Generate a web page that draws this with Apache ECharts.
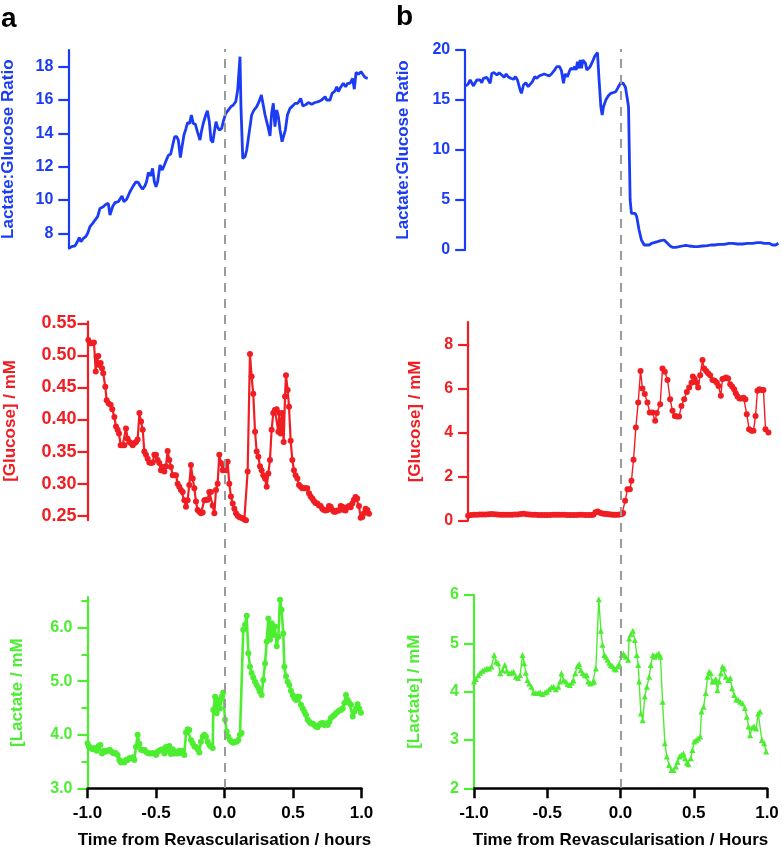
<!DOCTYPE html>
<html>
<head>
<meta charset="utf-8">
<script src="https://cdn.jsdelivr.net/npm/echarts@6/dist/echarts.min.js"></script>
<style>
  html, body { margin: 0; padding: 0; background: #fff; }
  #chart { width: 782px; height: 847px; }
</style>
</head>
<body>
<div id="chart"></div>
<script>
// time (hours from revascularisation), value
const ratioA = [[-1.14,7.1],[-1.116,7.2],[-1.091,7.25],[-1.074,7.5],[-1.06,7.75],[-1.048,7.5],[-1.03,7.7],[-1.013,7.8],[-0.999,8.0],[-0.982,8.4],[-0.962,8.6],[-0.945,8.8],[-0.926,9.0],[-0.909,9.5],[-0.885,9.6],[-0.865,9.75],[-0.848,9.8],[-0.836,9.1],[-0.817,9.6],[-0.799,9.85],[-0.775,9.9],[-0.763,9.8],[-0.748,10.25],[-0.734,9.9],[-0.714,10.05],[-0.69,10.5],[-0.666,10.85],[-0.646,11.1],[-0.629,11.05],[-0.612,10.8],[-0.598,10.65],[-0.581,10.85],[-0.569,11.1],[-0.556,11.65],[-0.539,11.45],[-0.525,11.9],[-0.512,11.1],[-0.5,10.8],[-0.488,11.1],[-0.471,12.1],[-0.454,11.8],[-0.439,12.1],[-0.422,12.45],[-0.408,12.7],[-0.393,12.75],[-0.378,13.3],[-0.364,13.8],[-0.349,13.8],[-0.337,13.6],[-0.322,12.55],[-0.31,13.2],[-0.296,13.9],[-0.281,14.3],[-0.269,14.65],[-0.254,14.6],[-0.242,15.1],[-0.228,14.6],[-0.213,14.55],[-0.198,14.1],[-0.179,13.6],[-0.169,14.1],[-0.155,14.6],[-0.137,15.1],[-0.125,15.35],[-0.111,14.7],[-0.099,13.6],[-0.086,13.45],[-0.074,14.1],[-0.062,14.7],[-0.052,14.4],[-0.038,14.2],[-0.021,14.3],[-0.009,14.7],[0.009,15.2],[0.028,15.4],[0.047,15.6],[0.064,15.7],[0.082,15.9],[0.096,16.6],[0.108,18.0],[0.113,18.6],[0.12,15.6],[0.133,12.5],[0.15,12.6],[0.162,13.0],[0.179,14.0],[0.198,15.1],[0.215,15.4],[0.235,15.6],[0.252,15.9],[0.269,16.3],[0.281,16.3],[0.296,15.1],[0.308,15.1],[0.32,14.3],[0.332,13.85],[0.344,15.2],[0.356,15.8],[0.368,14.4],[0.381,15.4],[0.393,15.0],[0.405,14.2],[0.42,13.5],[0.429,13.4],[0.444,14.2],[0.459,15.1],[0.478,15.5],[0.498,15.65],[0.515,15.8],[0.534,15.8],[0.546,15.9],[0.556,16.1],[0.571,15.65],[0.588,15.7],[0.612,15.85],[0.636,15.75],[0.661,15.85],[0.685,15.9],[0.709,16.0],[0.734,16.2],[0.746,16.0],[0.758,15.9],[0.77,16.0],[0.785,16.4],[0.807,16.55],[0.819,16.8],[0.831,16.5],[0.843,16.7],[0.867,17.0],[0.884,16.8],[0.899,17.0],[0.916,17.0],[0.935,17.3],[0.947,16.65],[0.96,17.65],[0.977,17.55],[0.996,17.7],[1.013,17.5],[1.026,17.35],[1.045,17.3]];

const glucoseA = [[-0.994,0.524],[-0.982,0.519],[-0.970,0.519],[-0.953,0.520],[-0.940,0.475],[-0.933,0.498],[-0.921,0.499],[-0.914,0.485],[-0.904,0.488],[-0.894,0.480],[-0.885,0.472],[-0.870,0.451],[-0.860,0.430],[-0.846,0.425],[-0.831,0.423],[-0.819,0.416],[-0.804,0.404],[-0.792,0.389],[-0.780,0.384],[-0.770,0.378],[-0.758,0.360],[-0.743,0.360],[-0.731,0.360],[-0.719,0.386],[-0.707,0.370],[-0.695,0.365],[-0.682,0.363],[-0.670,0.360],[-0.658,0.363],[-0.646,0.365],[-0.634,0.369],[-0.621,0.410],[-0.609,0.397],[-0.597,0.384],[-0.585,0.350],[-0.573,0.345],[-0.561,0.339],[-0.549,0.333],[-0.536,0.332],[-0.524,0.333],[-0.512,0.345],[-0.500,0.345],[-0.488,0.337],[-0.476,0.332],[-0.464,0.321],[-0.451,0.326],[-0.439,0.319],[-0.427,0.327],[-0.415,0.351],[-0.403,0.337],[-0.391,0.326],[-0.378,0.313],[-0.366,0.313],[-0.354,0.313],[-0.342,0.300],[-0.330,0.295],[-0.318,0.290],[-0.305,0.287],[-0.293,0.274],[-0.281,0.264],[-0.269,0.274],[-0.257,0.298],[-0.245,0.329],[-0.232,0.308],[-0.220,0.293],[-0.208,0.272],[-0.196,0.259],[-0.184,0.256],[-0.172,0.254],[-0.159,0.255],[-0.147,0.274],[-0.135,0.275],[-0.123,0.275],[-0.111,0.287],[-0.099,0.287],[-0.086,0.266],[-0.074,0.254],[-0.062,0.290],[-0.050,0.300],[-0.038,0.345],[-0.026,0.332],[-0.013,0.321],[-0.001,0.326],[0.011,0.321],[0.023,0.334],[0.035,0.300],[0.047,0.280],[0.060,0.269],[0.072,0.261],[0.084,0.254],[0.096,0.250],[0.108,0.248],[0.120,0.247],[0.133,0.246],[0.145,0.244],[0.157,0.243],[0.169,0.319],[0.186,0.502],[0.198,0.467],[0.210,0.440],[0.223,0.381],[0.235,0.350],[0.247,0.342],[0.259,0.327],[0.271,0.321],[0.283,0.313],[0.296,0.308],[0.308,0.295],[0.320,0.316],[0.332,0.337],[0.344,0.384],[0.356,0.410],[0.368,0.415],[0.381,0.416],[0.393,0.381],[0.400,0.410],[0.410,0.378],[0.422,0.410],[0.432,0.365],[0.442,0.436],[0.449,0.469],[0.461,0.446],[0.471,0.420],[0.483,0.367],[0.495,0.337],[0.507,0.321],[0.519,0.313],[0.532,0.308],[0.544,0.298],[0.556,0.295],[0.568,0.293],[0.580,0.293],[0.592,0.293],[0.604,0.293],[0.617,0.285],[0.629,0.280],[0.641,0.277],[0.653,0.273],[0.665,0.270],[0.678,0.269],[0.690,0.266],[0.702,0.265],[0.714,0.261],[0.726,0.259],[0.738,0.258],[0.751,0.259],[0.763,0.265],[0.775,0.264],[0.787,0.259],[0.799,0.256],[0.811,0.256],[0.823,0.258],[0.836,0.258],[0.848,0.265],[0.860,0.264],[0.872,0.259],[0.884,0.258],[0.896,0.263],[0.908,0.265],[0.921,0.263],[0.933,0.269],[0.945,0.275],[0.957,0.279],[0.969,0.277],[0.982,0.265],[0.994,0.247],[1.006,0.248],[1.018,0.254],[1.030,0.261],[1.043,0.259],[1.055,0.253]];

const lactateA = [[-1.0,3.84],[-0.989,3.78],[-0.977,3.75],[-0.962,3.73],[-0.948,3.75],[-0.933,3.70],[-0.919,3.79],[-0.906,3.81],[-0.894,3.65],[-0.882,3.70],[-0.868,3.68],[-0.853,3.70],[-0.838,3.72],[-0.824,3.68],[-0.809,3.65],[-0.795,3.66],[-0.780,3.62],[-0.768,3.53],[-0.756,3.48],[-0.743,3.50],[-0.731,3.48],[-0.719,3.53],[-0.707,3.53],[-0.695,3.56],[-0.682,3.56],[-0.670,3.58],[-0.658,3.53],[-0.646,3.77],[-0.634,4.00],[-0.621,3.83],[-0.609,3.72],[-0.597,3.71],[-0.585,3.72],[-0.573,3.68],[-0.561,3.66],[-0.549,3.65],[-0.536,3.65],[-0.524,3.66],[-0.512,3.65],[-0.500,3.62],[-0.488,3.68],[-0.476,3.70],[-0.464,3.72],[-0.451,3.73],[-0.439,3.65],[-0.427,3.77],[-0.415,3.70],[-0.403,3.79],[-0.391,3.64],[-0.378,3.73],[-0.366,3.65],[-0.354,3.68],[-0.342,3.65],[-0.330,3.70],[-0.318,3.66],[-0.305,3.70],[-0.293,3.62],[-0.281,4.04],[-0.269,4.10],[-0.257,4.09],[-0.245,3.90],[-0.232,3.84],[-0.220,3.78],[-0.208,3.77],[-0.196,3.73],[-0.184,3.67],[-0.172,3.87],[-0.159,3.96],[-0.147,4.00],[-0.135,3.96],[-0.123,3.87],[-0.111,3.81],[-0.099,3.78],[-0.086,3.75],[-0.082,4.46],[-0.069,4.71],[-0.057,4.40],[-0.045,4.65],[-0.033,4.49],[-0.021,4.71],[-0.009,4.79],[0.004,4.28],[0.016,4.06],[0.028,3.96],[0.040,3.90],[0.052,3.87],[0.064,3.85],[0.077,3.87],[0.089,3.87],[0.101,3.90],[0.113,4.00],[0.125,4.03],[0.137,5.96],[0.150,6.05],[0.162,6.22],[0.174,5.52],[0.186,5.27],[0.198,5.15],[0.210,5.07],[0.223,4.99],[0.235,4.93],[0.247,4.87],[0.259,4.80],[0.271,4.74],[0.283,5.02],[0.296,5.33],[0.308,5.74],[0.320,6.17],[0.332,5.77],[0.344,6.08],[0.356,5.86],[0.368,6.02],[0.381,5.65],[0.393,5.83],[0.405,6.52],[0.417,6.33],[0.429,5.89],[0.437,5.27],[0.449,5.09],[0.461,4.99],[0.473,4.93],[0.485,4.82],[0.498,4.74],[0.510,4.68],[0.522,4.65],[0.534,4.71],[0.546,4.71],[0.558,4.56],[0.571,4.49],[0.583,4.43],[0.595,4.37],[0.607,4.28],[0.619,4.24],[0.631,4.21],[0.644,4.21],[0.656,4.18],[0.668,4.15],[0.680,4.14],[0.692,4.18],[0.704,4.21],[0.717,4.22],[0.729,4.18],[0.741,4.21],[0.753,4.18],[0.765,4.24],[0.777,4.31],[0.790,4.34],[0.802,4.37],[0.814,4.40],[0.826,4.43],[0.838,4.45],[0.850,4.46],[0.863,4.49],[0.875,4.59],[0.887,4.74],[0.899,4.65],[0.911,4.59],[0.923,4.56],[0.936,4.34],[0.948,4.43],[0.960,4.49],[0.972,4.57],[0.984,4.49],[0.996,4.41]];

const ratioB = [[-1.056,16.4],[-1.040,16.6],[-1.026,17.0],[-1.015,16.85],[-1.003,16.4],[-0.992,16.73],[-0.981,17.0],[-0.969,16.83],[-0.958,17.0],[-0.947,16.73],[-0.935,17.17],[-0.924,17.17],[-0.912,17.27],[-0.901,17.07],[-0.890,16.67],[-0.878,17.67],[-0.862,17.73],[-0.844,17.5],[-0.828,17.73],[-0.810,17.5],[-0.794,17.27],[-0.780,17.6],[-0.767,17.33],[-0.749,17.17],[-0.730,17.07],[-0.717,17.33],[-0.703,17.0],[-0.685,16.0],[-0.676,15.67],[-0.662,16.5],[-0.646,16.73],[-0.630,16.33],[-0.617,16.27],[-0.601,16.83],[-0.585,17.33],[-0.571,17.17],[-0.555,17.4],[-0.539,17.5],[-0.521,17.6],[-0.503,17.5],[-0.487,17.4],[-0.471,17.6],[-0.453,17.93],[-0.435,18.33],[-0.416,18.33],[-0.403,17.93],[-0.389,16.67],[-0.378,17.6],[-0.362,17.33],[-0.350,17.83],[-0.339,18.17],[-0.325,18.07],[-0.312,18.33],[-0.303,18.0],[-0.294,18.83],[-0.282,18.17],[-0.275,19.0],[-0.266,18.17],[-0.257,19.0],[-0.248,19.07],[-0.239,18.67],[-0.230,18.0],[-0.221,18.0],[-0.207,18.33],[-0.191,18.83],[-0.175,19.4],[-0.157,19.73],[-0.146,17.0],[-0.134,14.33],[-0.125,13.5],[-0.116,14.33],[-0.100,15.0],[-0.084,15.4],[-0.066,15.67],[-0.050,15.73],[-0.032,15.83],[-0.016,16.27],[0.002,16.73],[0.018,16.67],[0.034,16.27],[0.048,15.0],[0.055,14.33],[0.066,5.0],[0.075,3.67],[0.100,3.67],[0.111,3.33],[0.127,2.0],[0.143,1.0],[0.162,0.5],[0.180,0.5],[0.196,0.5],[0.212,0.67],[0.230,0.73],[0.253,0.83],[0.275,0.93],[0.298,1.0],[0.309,1.07],[0.321,0.67],[0.339,0.4],[0.355,0.27],[0.378,0.27],[0.400,0.33],[0.423,0.4],[0.446,0.47],[0.469,0.4],[0.503,0.33],[0.526,0.33],[0.560,0.4],[0.594,0.43],[0.617,0.5],[0.639,0.5],[0.673,0.57],[0.708,0.57],[0.742,0.67],[0.765,0.67],[0.799,0.6],[0.833,0.6],[0.867,0.67],[0.901,0.67],[0.935,0.73],[0.958,0.73],[0.981,0.67],[1.015,0.67],[1.038,0.5],[1.060,0.5],[1.078,0.67]];

const glucoseB = [[-1.040,0.22],[-1.020,0.26],[-1.000,0.27],[-0.980,0.27],[-0.960,0.28],[-0.940,0.28],[-0.920,0.28],[-0.900,0.29],[-0.880,0.30],[-0.860,0.29],[-0.840,0.28],[-0.820,0.27],[-0.800,0.27],[-0.780,0.27],[-0.760,0.27],[-0.740,0.27],[-0.720,0.28],[-0.700,0.28],[-0.680,0.30],[-0.660,0.31],[-0.640,0.29],[-0.620,0.28],[-0.600,0.27],[-0.580,0.27],[-0.560,0.26],[-0.540,0.26],[-0.520,0.26],[-0.500,0.26],[-0.480,0.26],[-0.460,0.27],[-0.440,0.27],[-0.420,0.27],[-0.400,0.27],[-0.380,0.27],[-0.360,0.26],[-0.340,0.26],[-0.320,0.26],[-0.300,0.26],[-0.280,0.27],[-0.260,0.27],[-0.240,0.26],[-0.220,0.26],[-0.200,0.26],[-0.185,0.27],[-0.170,0.38],[-0.155,0.42],[-0.140,0.36],[-0.125,0.33],[-0.110,0.31],[-0.095,0.30],[-0.080,0.29],[-0.065,0.28],[-0.050,0.27],[-0.035,0.27],[-0.020,0.27],[-0.005,0.28],[0.010,0.30],[0.018,0.35],[0.032,0.9],[0.048,1.43],[0.064,1.43],[0.075,1.81],[0.089,2.76],[0.105,4.23],[0.121,5.36],[0.137,6.79],[0.150,5.99],[0.166,5.74],[0.184,5.36],[0.200,4.91],[0.218,4.91],[0.237,4.53],[0.248,4.88],[0.271,5.28],[0.287,6.9],[0.303,6.75],[0.321,6.38],[0.339,5.51],[0.355,4.98],[0.371,4.75],[0.385,4.72],[0.400,4.72],[0.416,5.2],[0.435,5.51],[0.453,5.84],[0.469,6.04],[0.485,6.26],[0.494,6.54],[0.507,6.42],[0.521,6.26],[0.530,6.04],[0.544,6.6],[0.560,7.29],[0.571,6.9],[0.585,6.79],[0.598,6.69],[0.612,6.6],[0.628,6.38],[0.644,6.34],[0.658,6.26],[0.669,6.11],[0.685,5.66],[0.696,6.42],[0.708,6.45],[0.721,6.49],[0.735,6.45],[0.749,6.19],[0.762,6.08],[0.776,5.96],[0.787,5.78],[0.799,5.63],[0.812,5.54],[0.826,5.54],[0.840,5.58],[0.853,5.51],[0.862,4.83],[0.878,4.15],[0.894,4.08],[0.908,4.08],[0.922,4.75],[0.935,5.89],[0.949,5.96],[0.962,5.93],[0.976,5.93],[0.990,4.15],[1.010,4.0]];

const lactateB = [[-1.0,4.21],[-0.987,4.26],[-0.972,4.34],[-0.958,4.39],[-0.942,4.43],[-0.926,4.46],[-0.912,4.48],[-0.896,4.48],[-0.881,4.52],[-0.862,4.76],[-0.849,4.62],[-0.835,4.59],[-0.821,4.38],[-0.805,4.45],[-0.790,4.55],[-0.776,4.43],[-0.760,4.38],[-0.744,4.39],[-0.730,4.41],[-0.714,4.31],[-0.699,4.28],[-0.685,4.34],[-0.669,4.76],[-0.658,4.59],[-0.646,4.39],[-0.635,4.24],[-0.623,4.17],[-0.608,4.10],[-0.594,3.98],[-0.578,3.97],[-0.562,3.97],[-0.548,3.98],[-0.532,3.95],[-0.516,3.98],[-0.503,4.00],[-0.487,4.05],[-0.471,4.09],[-0.457,4.10],[-0.441,4.05],[-0.425,4.10],[-0.412,4.21],[-0.403,4.38],[-0.389,4.24],[-0.373,4.21],[-0.362,4.16],[-0.346,4.14],[-0.332,4.19],[-0.321,4.23],[-0.309,4.38],[-0.294,4.53],[-0.282,4.57],[-0.271,4.45],[-0.259,4.38],[-0.243,4.34],[-0.230,4.34],[-0.221,4.21],[-0.207,4.17],[-0.191,4.19],[-0.180,4.21],[-0.168,4.48],[-0.148,5.91],[-0.134,5.26],[-0.123,4.97],[-0.111,4.76],[-0.100,4.72],[-0.089,4.66],[-0.077,4.60],[-0.066,4.55],[-0.055,4.53],[-0.043,4.48],[-0.032,4.46],[-0.020,4.52],[-0.009,4.57],[0.007,4.76],[0.020,4.79],[0.036,4.72],[0.052,4.66],[0.059,5.10],[0.071,5.19],[0.084,5.26],[0.098,5.07],[0.111,4.76],[0.121,4.55],[0.127,4.21],[0.139,3.55],[0.152,3.41],[0.166,3.90],[0.180,4.10],[0.196,4.31],[0.207,4.55],[0.221,4.76],[0.234,4.72],[0.248,4.76],[0.262,4.79],[0.273,4.72],[0.287,3.79],[0.303,2.93],[0.316,2.66],[0.332,2.48],[0.348,2.38],[0.362,2.38],[0.378,2.45],[0.389,2.55],[0.403,2.66],[0.416,2.69],[0.430,2.72],[0.441,2.62],[0.453,2.53],[0.464,2.50],[0.480,2.62],[0.491,2.79],[0.503,2.97],[0.516,3.00],[0.530,3.03],[0.544,3.07],[0.553,3.59],[0.567,3.69],[0.582,3.97],[0.594,4.31],[0.605,4.41],[0.617,4.38],[0.628,4.21],[0.639,4.21],[0.651,4.26],[0.662,4.03],[0.673,4.21],[0.685,4.38],[0.696,4.52],[0.708,4.48],[0.719,4.31],[0.735,4.24],[0.749,4.28],[0.762,4.07],[0.776,3.93],[0.790,3.84],[0.803,3.83],[0.817,3.79],[0.833,3.76],[0.849,3.66],[0.862,3.48],[0.874,3.28],[0.885,3.10],[0.899,3.26],[0.912,3.28],[0.926,3.24],[0.940,3.55],[0.953,3.59],[0.965,3.00],[0.981,2.93],[0.994,2.76]];

const ratioATicks = [8, 10, 12, 14, 16, 18];
const glucoseATicks = [0.25, 0.30, 0.35, 0.40, 0.45, 0.50, 0.55];
const lactateATicks = [3.0, 4.0, 5.0, 6.0];
const lactateAMinorTicks = [3.5, 4.5, 5.5, 6.5];
const glucoseBTicks = [0, 2, 4, 6, 8];

const BLUE = '#1b3cf4';
const RED = '#f01d22';
const GREEN = '#4ded32';
const FONT = '"Liberation Sans", Arial, sans-serif';

const chart = echarts.init(document.getElementById('chart'));

function grid(left, width, top, height) {
  return { left: left, width: width, top: top, height: height, outerBoundsMode: 'none' };
}
function hiddenX(gi, min, max) {
  return { type: 'value', gridIndex: gi, min: min, max: max, show: false };
}
function yAxis(gi, min, max, color, name, gap, opts) {
  return Object.assign({
    type: 'value', gridIndex: gi, min: min, max: max, position: 'left',
    name: name, nameLocation: 'middle', nameGap: gap,
    nameTextStyle: { color: color, fontSize: 17, fontWeight: 'bold', fontFamily: FONT },
    axisLine: { show: true, onZero: false, lineStyle: { color: color, width: 2.2 } },
    axisTick: { show: true, length: 10, lineStyle: { color: color, width: 2.2 } },
    axisLabel: { color: color, fontSize: 16, fontWeight: 'bold', fontFamily: FONT, margin: 15 },
    splitLine: { show: false }
  }, opts || {});
}
function timeAxis(gi, name) {
  return {
    type: 'value', gridIndex: gi, min: -1, max: 1, interval: 0.5,
    name: name, nameLocation: 'middle', nameGap: 44,
    nameTextStyle: { color: '#000', fontSize: 17, fontWeight: 'bold', fontFamily: FONT },
    axisLine: { show: true, onZero: false, lineStyle: { color: '#000', width: 2.5 } },
    axisTick: { show: true, length: 10, lineStyle: { color: '#000', width: 2.5 } },
    axisLabel: { color: '#000', fontSize: 17, fontWeight: 'bold', fontFamily: FONT, margin: 17,
      formatter: v => v.toFixed(1) },
    splitLine: { show: false }
  };
}
function dashed(xi, yi) {
  return {
    type: 'line', xAxisIndex: xi, yAxisIndex: yi, data: [], silent: true,
    markLine: {
      symbol: 'none', silent: true, label: { show: false },
      lineStyle: { color: '#9a9a9a', type: [9, 7], width: 2 },
      data: [{ xAxis: 0 }]
    }
  };
}

chart.setOption({
  animation: false,
  backgroundColor: '#fff',
  title: [
    { text: 'a', left: 1, top: 5, padding: 0, textStyle: { fontSize: 28, fontWeight: 'bold', color: '#000', fontFamily: FONT } },
    { text: 'b', left: 396, top: 3, padding: 0, textStyle: { fontSize: 28, fontWeight: 'bold', color: '#000', fontFamily: FONT } }
  ],
  grid: [
    grid(68.3, 300.1, 50, 198.4),     // 0 ratio a
    grid(87.5, 282.2, 321.7, 198.5),  // 1 glucose a
    grid(87.5, 274, 597, 191.3),      // 2 lactate a
    grid(465.2, 314.2, 50, 200),      // 3 ratio b
    grid(468.1, 301.8, 322.2, 198.5), // 4 glucose b
    grid(474, 293, 595, 193.3),       // 5 lactate b
    grid(87.5, 274, 49, 739),         // 6 dashed a
    grid(474, 293, 49, 739)           // 7 dashed b
  ],
  xAxis: [
    hiddenX(0, -1.14, 1.05),
    hiddenX(1, -1.0, 1.06),
    timeAxis(2, 'Time from Revascularisation / hours'),
    hiddenX(3, -1.06, 1.085),
    hiddenX(4, -1.04, 1.02),
    timeAxis(5, 'Time from Revascularisation / Hours'),
    hiddenX(6, -1, 1),
    hiddenX(7, -1, 1)
  ],
  yAxis: [
    yAxis(0, 7.1, 19, BLUE, 'Lactate:Glucose Ratio', 51, {
      axisLabel: { color: BLUE, fontSize: 16, fontWeight: 'bold', fontFamily: FONT, margin: 15, customValues: ratioATicks },
      axisTick: { show: true, length: 10, lineStyle: { color: BLUE, width: 2.2 }, customValues: ratioATicks }
    }),
    yAxis(1, 0.243, 0.5525, RED, '[Glucose] / mM', 69, {
      axisLabel: { color: RED, fontSize: 18, fontWeight: 'bold', fontFamily: FONT, margin: 11,
        customValues: glucoseATicks, formatter: v => v.toFixed(2) },
      axisTick: { show: true, length: 10, lineStyle: { color: RED, width: 2.2 }, customValues: glucoseATicks }
    }),
    yAxis(2, 3.0, 6.57, GREEN, '[Lactate / mM', 62, {
      axisLabel: { color: GREEN, fontSize: 16, fontWeight: 'bold', fontFamily: FONT, margin: 15,
        customValues: lactateATicks, formatter: v => v.toFixed(1) },
      axisTick: { show: true, length: 10, lineStyle: { color: GREEN, width: 2.2 }, customValues: lactateATicks }
    }),
    yAxis(3, 0, 20, BLUE, 'Lactate:Glucose Ratio', 53, { interval: 5 }),
    yAxis(4, 0, 9, RED, '[Glucose] / mM', 44, {
      axisLabel: { color: RED, fontSize: 16, fontWeight: 'bold', fontFamily: FONT, margin: 15, customValues: glucoseBTicks },
      axisTick: { show: true, length: 10, lineStyle: { color: RED, width: 2.2 }, customValues: glucoseBTicks }
    }),
    yAxis(5, 2, 6, GREEN, '[Lactate] / mM', 51, { interval: 1 }),
    { type: 'value', gridIndex: 6, min: 0, max: 1, show: false },
    { type: 'value', gridIndex: 7, min: 0, max: 1, show: false },
    // minor ticks of lactate a
    {
      type: 'value', gridIndex: 2, min: 3.0, max: 6.57, position: 'left',
      axisLine: { show: false, onZero: false }, axisLabel: { show: false }, splitLine: { show: false },
      axisTick: { show: true, length: 6, lineStyle: { color: GREEN, width: 2 }, customValues: lactateAMinorTicks }
    }
  ],
  series: [
    dashed(6, 6),
    dashed(7, 7),
    { type: 'line', xAxisIndex: 0, yAxisIndex: 0, data: ratioA, symbol: 'none',
      lineStyle: { color: BLUE, width: 2.8 }, itemStyle: { color: BLUE } },
    { type: 'line', xAxisIndex: 1, yAxisIndex: 1, data: glucoseA, symbol: 'circle', symbolSize: 6,
      lineStyle: { color: RED, width: 2.2 }, itemStyle: { color: RED } },
    { type: 'line', xAxisIndex: 2, yAxisIndex: 2, data: lactateA, symbol: 'circle', symbolSize: 6,
      lineStyle: { color: GREEN, width: 2.6 }, itemStyle: { color: GREEN } },
    { type: 'line', xAxisIndex: 3, yAxisIndex: 3, data: ratioB, symbol: 'none',
      lineStyle: { color: BLUE, width: 2.8 }, itemStyle: { color: BLUE } },
    { type: 'line', xAxisIndex: 4, yAxisIndex: 4, data: glucoseB, symbol: 'circle', symbolSize: 6,
      lineStyle: { color: RED, width: 1.4 }, itemStyle: { color: RED } },
    { type: 'line', xAxisIndex: 5, yAxisIndex: 5, data: lactateB, symbol: 'triangle', symbolSize: 6,
      lineStyle: { color: GREEN, width: 1.4 }, itemStyle: { color: GREEN } }
  ]
});
</script>
</body>
</html>
